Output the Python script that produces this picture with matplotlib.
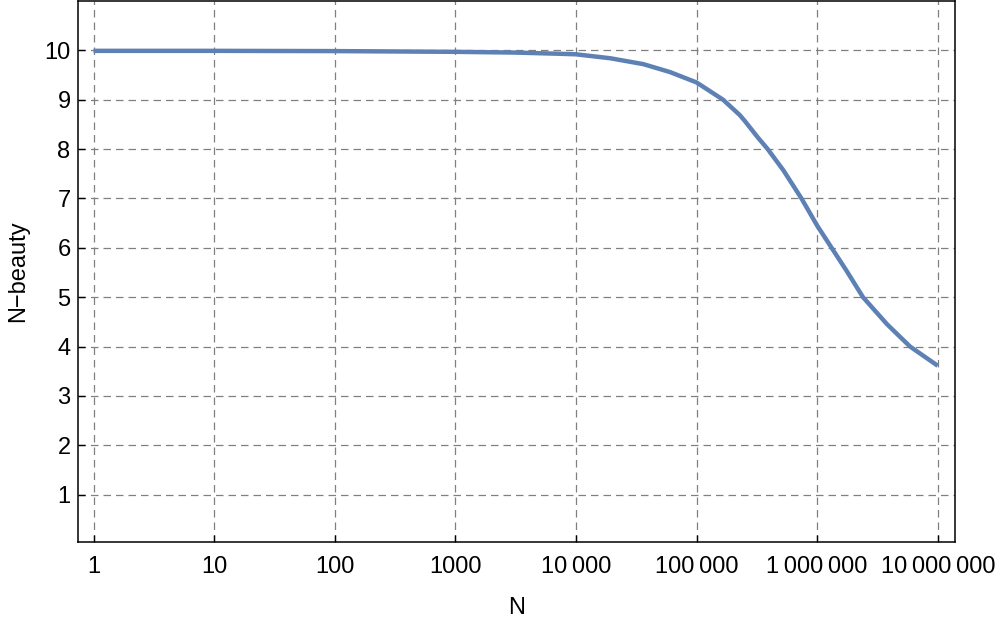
import matplotlib
matplotlib.use('Agg')
import matplotlib.pyplot as plt
from matplotlib.ticker import FixedLocator, NullLocator

plt.rcParams['font.family'] = ['Liberation Sans', 'DejaVu Sans']

# N values and N-beauty
n_vals = [1, 10, 100, 1000, 3162, 7499, 10000, 19275, 36308, 60256,
          100000, 165959, 228034, 251189, 323594, 389045, 524807,
          741310, 1000000, 1318257, 1757924, 2398833, 3801894,
          5888437, 10000000]
beauty = [9.99, 9.99, 9.985, 9.97, 9.955, 9.93, 9.92, 9.84, 9.72, 9.56,
          9.35, 9.00, 8.69, 8.57, 8.23, 8.00, 7.57,
          7.00, 6.45, 6.00, 5.53, 5.00, 4.45,
          4.00, 3.61]

xticks = [1, 10, 100, 1000, 10000, 100000, 1000000, 10000000]
xticklabels = ['1', '10', '100', '1000', '10\u2009000', '100\u2009000',
               '1\u2009000\u2009000', '10\u2009000\u2009000']
yticks = [1, 2, 3, 4, 5, 6, 7, 8, 9, 10]

fig = plt.figure(figsize=(10, 6.24), dpi=100)
ax = fig.add_axes([0.0775, 82 / 624, (955 - 77.5) / 1000, 541.5 / 624])

ax.plot(n_vals, beauty, color='#5E81B5', lw=3.2, solid_capstyle='butt',
        solid_joinstyle='round')

ax.set_xscale('log')
ax.set_xlim(10 ** -0.1327, 10 ** 7.143)
ax.set_ylim(0.04, 11.01)

ax.xaxis.set_major_locator(FixedLocator(xticks))
ax.xaxis.set_minor_locator(NullLocator())
ax.set_xticklabels(xticklabels)
ax.set_yticks(yticks)

ax.grid(True, color='#808080', lw=0.9, linestyle=(0, (6, 4)))
ax.tick_params(direction='in', length=5, width=1, labelsize=17,
               top=False, right=False, colors='black')
ax.tick_params(axis='x', pad=10)
ax.tick_params(axis='y', pad=5)
for s in ax.spines.values():
    s.set_linewidth(1.1)
    s.set_color('black')

ax.set_xlabel('N', fontsize=17, labelpad=14)
ax.set_ylabel('N\u2212beauty', fontsize=17, labelpad=11)

fig.savefig('out.png', dpi=100)
